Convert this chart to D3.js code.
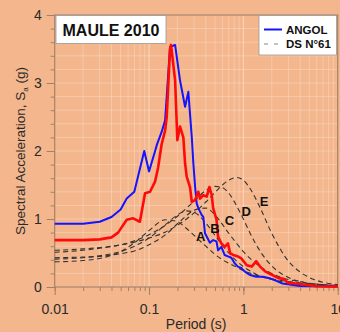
<!DOCTYPE html>
<html>
<head>
<meta charset="utf-8">
<script src="https://cdn.jsdelivr.net/npm/d3@7"></script>
<style>
  body { margin: 0; background: #f4b68c; }
  svg { display: block; font-family: Arial, "Liberation Sans", sans-serif; }
</style>
</head>
<body>
<div id="chart"></div>
<script>
// ANGOL record (blue)
const angolT = [0.01, 0.02, 0.03, 0.04, 0.05, 0.058, 0.0698, 0.089, 0.1, 0.116, 0.121, 0.136, 0.148, 0.167, 0.189, 0.213, 0.241, 0.261, 0.284, 0.295, 0.308, 0.320, 0.333, 0.361, 0.376, 0.392, 0.442, 0.478, 0.519, 0.539, 0.585, 0.634, 0.687, 0.746, 0.808, 0.875, 0.95, 1.03, 1.16, 1.37, 1.61, 1.9, 2.24, 2.6, 4.0, 6.0, 10];
const angolSa = [0.93, 0.93, 0.96, 1.03, 1.14, 1.30, 1.40, 2.0, 1.70, 2.0, 2.09, 2.28, 2.45, 3.53, 3.56, 3.04, 2.65, 2.87, 2.2, 1.82, 1.47, 1.23, 1.16, 1.06, 1.03, 0.79, 0.65, 0.69, 0.67, 0.54, 0.59, 0.47, 0.45, 0.43, 0.35, 0.30, 0.28, 0.23, 0.18, 0.15, 0.15, 0.13, 0.09, 0.05, 0.015, 0.01, 0.01];

// second record (red)
const redT = [0.01, 0.02, 0.03, 0.04, 0.047, 0.058, 0.068, 0.080, 0.0907, 0.1025, 0.1158, 0.1246, 0.136, 0.148, 0.154, 0.167, 0.171, 0.189, 0.1996, 0.213, 0.231, 0.241, 0.251, 0.272, 0.284, 0.308, 0.333, 0.347, 0.376, 0.409, 0.436, 0.462, 0.478, 0.519, 0.539, 0.585, 0.634, 0.687, 0.723, 0.783, 0.875, 0.95, 1.087, 1.228, 1.369, 1.503, 1.70, 2.0, 2.35, 2.66, 3.0, 4.0, 6.0, 10];
const redSa = [0.69, 0.69, 0.70, 0.73, 0.80, 0.99, 1.01, 0.96, 1.38, 1.40, 1.55, 1.75, 2.1, 2.3, 2.5, 3.5, 3.56, 3.04, 2.16, 2.36, 2.2, 1.82, 1.62, 1.47, 1.25, 1.28, 1.40, 1.30, 1.35, 1.33, 1.47, 1.35, 1.16, 0.99, 0.74, 0.64, 0.59, 0.64, 0.50, 0.47, 0.45, 0.42, 0.32, 0.30, 0.38, 0.30, 0.23, 0.18, 0.13, 0.12, 0.06, 0.045, 0.01, 0.005];

// DS N°61 design spectra, soils A-E
const dsT = [0.01, 0.02, 0.03, 0.05, 0.07, 0.1, 0.15, 0.2, 0.25, 0.3, 0.4, 0.5, 0.6, 0.7, 0.85, 1.0, 1.2, 1.5, 2.0, 3.0, 4.0, 5.0, 7.0, 10];
const soilA = [0.37, 0.39, 0.42, 0.52, 0.65, 0.83, 0.99, 0.96, 0.86, 0.76, 0.60, 0.48, 0.40, 0.35, 0.29, 0.24, 0.20, 0.16, 0.12, 0.08, 0.06, 0.05, 0.035, 0.024];
const soilB = [0.41, 0.43, 0.46, 0.52, 0.60, 0.72, 0.92, 1.06, 1.12, 1.10, 0.94, 0.76, 0.61, 0.50, 0.38, 0.30, 0.23, 0.16, 0.11, 0.06, 0.04, 0.03, 0.016, 0.009];
const soilC = [0.43, 0.44, 0.45, 0.49, 0.53, 0.62, 0.77, 0.93, 1.05, 1.13, 1.16, 1.06, 0.92, 0.79, 0.64, 0.52, 0.41, 0.30, 0.20, 0.11, 0.08, 0.055, 0.034, 0.021];
const soilD = [0.51, 0.54, 0.57, 0.62, 0.68, 0.77, 0.91, 1.04, 1.16, 1.26, 1.42, 1.48, 1.46, 1.38, 1.19, 1.00, 0.77, 0.53, 0.31, 0.14, 0.08, 0.05, 0.025, 0.012];
const soilE = [0.54, 0.56, 0.58, 0.62, 0.66, 0.72, 0.81, 0.91, 1.00, 1.09, 1.25, 1.39, 1.50, 1.57, 1.61, 1.57, 1.43, 1.17, 0.79, 0.38, 0.22, 0.14, 0.07, 0.035];
const soilNames = ['A', 'B', 'C', 'D', 'E'];
const soilLabelT = [0.353, 0.50, 0.71, 1.07, 1.66];
const soilLabelSa = [0.75, 0.86, 0.975, 1.105, 1.265];

const xTicks = [0.01, 0.1, 1, 10];
const xTickLabels = ['0.01', '0.1', '1', '10'];
const yTicks = [0, 1, 2, 3, 4];

const width = 340, height = 332;
const margin = {top: 15, right: 2.3, bottom: 45, left: 54.7};
const frameColor = '#a68066';

const svg = d3.select('#chart').append('svg')
  .attr('width', width)
  .attr('height', height);

svg.append('rect').attr('width', width).attr('height', height).attr('fill', '#f4b68c');

const xScale = d3.scaleLog()
  .domain([0.01, 10])
  .range([margin.left, width - margin.right]);

const yScale = d3.scaleLinear()
  .domain([0, 4])
  .range([height - margin.bottom, margin.top]);

// grid
const minorX = [];
[0.01, 0.1, 1].forEach(dec => { for (let k = 1; k <= 10; k++) minorX.push(dec * k); });
const minorY = d3.range(0, 4.001, 0.2);

svg.append('g').selectAll('line')
  .data(minorX)
  .enter().append('line')
  .attr('x1', d => xScale(d)).attr('x2', d => xScale(d))
  .attr('y1', yScale(0)).attr('y2', yScale(4))
  .attr('stroke', 'rgba(255,255,255,0.25)')
  .attr('stroke-width', 1);

svg.append('g').selectAll('line')
  .data(minorY)
  .enter().append('line')
  .attr('x1', xScale(0.01)).attr('x2', xScale(10))
  .attr('y1', d => yScale(d)).attr('y2', d => yScale(d))
  .attr('stroke', 'rgba(255,255,255,0.25)')
  .attr('stroke-width', 1);

// axes
const xAxis = d3.axisBottom(xScale).tickValues(xTicks).tickFormat((d, i) => xTickLabels[i]).tickSize(8).tickPadding(9);
const xMinor = d3.axisBottom(xScale).tickValues(minorX).tickFormat('').tickSize(4);
const yAxis = d3.axisLeft(yScale).tickValues(yTicks).tickFormat(d3.format('d')).tickSize(8).tickPadding(5);
const yMinor = d3.axisLeft(yScale).tickValues(minorY).tickFormat('').tickSize(4);

function styleAxis(g) {
  g.select('.domain').remove();
  g.selectAll('line').attr('stroke', frameColor).attr('stroke-width', 1);
  g.selectAll('text').attr('fill', '#2a2a2a').style('font-size', '14px');
}

svg.append('g').attr('transform', `translate(0,${yScale(0)})`).call(xMinor).call(styleAxis);
svg.append('g').attr('transform', `translate(0,${yScale(0)})`).call(xAxis).call(styleAxis);
svg.append('g').attr('transform', `translate(${xScale(0.01)},0)`).call(yMinor).call(styleAxis);
svg.append('g').attr('transform', `translate(${xScale(0.01)},0)`).call(yAxis).call(styleAxis);

// frame
svg.append('rect')
  .attr('x', xScale(0.01)).attr('y', yScale(4))
  .attr('width', xScale(10) - xScale(0.01))
  .attr('height', yScale(0) - yScale(4))
  .attr('fill', 'none')
  .attr('stroke', frameColor)
  .attr('stroke-width', 1.2);

// curves
const line = d3.line()
  .x(d => xScale(d[0]))
  .y(d => yScale(d[1]));
const smooth = d3.line()
  .x(d => xScale(d[0]))
  .y(d => yScale(d[1]))
  .curve(d3.curveMonotoneX);

[soilA, soilB, soilC, soilD, soilE].forEach(s => {
  svg.append('path')
    .datum(dsT.map((t, i) => [t, s[i]]))
    .attr('d', smooth)
    .attr('fill', 'none')
    .attr('stroke', '#333')
    .attr('stroke-width', 1.1)
    .attr('stroke-dasharray', '5,3.5');
});

svg.append('path')
  .datum(angolT.map((t, i) => [t, angolSa[i]]))
  .attr('d', line)
  .attr('fill', 'none')
  .attr('stroke', '#1414ff')
  .attr('stroke-width', 2)
  .attr('stroke-linejoin', 'round');

svg.append('path')
  .datum(redT.map((t, i) => [t, redSa[i]]))
  .attr('d', line)
  .attr('fill', 'none')
  .attr('stroke', '#ff0a0a')
  .attr('stroke-width', 2.6)
  .attr('stroke-linejoin', 'round');

// soil labels
svg.append('g').selectAll('text')
  .data(soilNames)
  .enter().append('text')
  .attr('x', (d, i) => xScale(soilLabelT[i]))
  .attr('y', (d, i) => yScale(soilLabelSa[i]))
  .attr('text-anchor', 'middle')
  .attr('dy', '0.35em')
  .style('font-size', '13px')
  .style('font-weight', 'bold')
  .attr('fill', '#111')
  .text(d => d);

// axis titles
svg.append('text')
  .attr('x', (xScale(0.01) + xScale(10)) / 2)
  .attr('y', 329)
  .attr('text-anchor', 'middle')
  .style('font-size', '14px')
  .attr('fill', '#2a2a2a')
  .text('Period (s)');

const yTitle = svg.append('text')
  .attr('transform', `translate(25,${(yScale(0) + yScale(4)) / 2}) rotate(-90)`)
  .attr('text-anchor', 'middle')
  .style('font-size', '13.5px')
  .attr('fill', '#2a2a2a');
yTitle.append('tspan').text('Spectral Acceleration, S');
yTitle.append('tspan').attr('dy', 3).style('font-size', '8px').text('a');
yTitle.append('tspan').attr('dy', -3).text(' (g)');

// title box
svg.append('rect')
  .attr('x', 56).attr('y', 15.5)
  .attr('width', 110).attr('height', 28)
  .attr('fill', '#fff')
  .attr('stroke', '#999')
  .attr('stroke-width', 0.8);
svg.append('text')
  .attr('x', 111).attr('y', 30)
  .attr('text-anchor', 'middle')
  .attr('dy', '0.35em')
  .style('font-size', '16px')
  .style('font-weight', 'bold')
  .attr('fill', '#111')
  .text('MAULE 2010');

// legend
const lg = svg.append('g');
lg.append('rect')
  .attr('x', 259).attr('y', 15.5)
  .attr('width', 77.5).attr('height', 39.5)
  .attr('fill', '#fff')
  .attr('stroke', '#999')
  .attr('stroke-width', 0.8);
lg.append('line')
  .attr('x1', 264).attr('x2', 282).attr('y1', 29.5).attr('y2', 29.5)
  .attr('stroke', '#1414ff').attr('stroke-width', 2);
lg.append('line')
  .attr('x1', 264).attr('x2', 282).attr('y1', 44).attr('y2', 44)
  .attr('stroke', '#888').attr('stroke-width', 1)
  .attr('stroke-dasharray', '4,6');
lg.append('text').attr('x', 286).attr('y', 29.5).attr('dy', '0.35em')
  .style('font-size', '11.5px').style('font-weight', 'bold').attr('fill', '#111')
  .text('ANGOL');
lg.append('text').attr('x', 286).attr('y', 44).attr('dy', '0.35em')
  .style('font-size', '11.5px').style('font-weight', 'bold').attr('fill', '#111')
  .text('DS N°61');
</script>
</body>
</html>
